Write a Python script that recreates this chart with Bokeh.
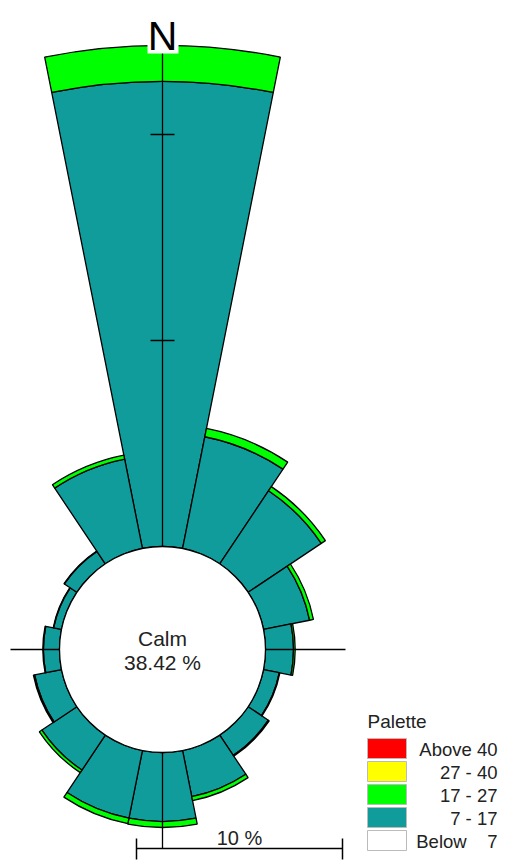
import numpy as np
from bokeh.plotting import figure
from bokeh.models import Range1d
from bokeh.embed import file_html
from bokeh.resources import INLINE
from bokeh.core.properties import value

# ---------------- data ----------------
directions = ["N", "NNE", "NE", "ENE", "E", "ESE", "SE", "SSE",
              "S", "SSW", "SW", "WSW", "W", "WNW", "NW", "NNW"]
bearings = [0.0, 22.5, 45.0, 67.5, 90.0, 112.5, 135.0, 157.5,
            180.0, 202.5, 225.0, 247.5, 270.0, 292.5, 315.0, 337.5]
pct_below_7 = [0] * 16
pct_7_17 = [22.57, 5.53, 4.27, 2.28, 1.36, 0.78, 1.18, 2.28,
            3.35, 3.35, 2.04, 1.33, 0.78, 0.39, 0.73, 4.42]
pct_17_27 = [1.75, 0.41, 0.24, 0.19, 0.08, 0.03, 0.05, 0.20,
             0.29, 0.27, 0.15, 0.06, 0.03, 0.02, 0.02, 0.20]
pct_27_40 = [0] * 16
pct_above_40 = [0] * 16
calm_pct = 38.42
calm_radius = 5.0          # radius of the calm circle, in % units
axis_ticks_pct = [10, 20]
scale_pct = 10

legend_labels = ["Above 40", "27 - 40", "17 - 27", "7 - 17",
                 "Below\u00a0\u00a0\u00a0\u00a07"]
legend_colors = ["#FF0000", "#FFFF00", "#00FF00", "#119C9C", "#FFFFFF"]
classes = [pct_below_7, pct_7_17, pct_17_27, pct_27_40, pct_above_40]
class_colors = ["#FFFFFF", "#119C9C", "#00FF00", "#FFFF00", "#FF0000"]

FONT = value("Liberation Sans")

# ---------------- layout ----------------
W, H = 505, 862
OX, OY = 0, 0               # page position of canvas origin
S = 20.6                    # pixels per % unit
CX, CY = 162.0, 649.0       # page position of rose centre

def X(px):
    return (px - CX) / S

def Y(py):
    return (CY - py) / S

p = figure(width=W, height=H,
           x_range=Range1d(X(OX), X(OX + W)),
           y_range=Range1d(Y(OY + H), Y(OY)),
           output_backend="svg", toolbar_location=None,
           x_axis_type=None, y_axis_type=None,
           min_border=0, outline_line_color=None)
p.grid.visible = False

# ---------------- stacked sectors ----------------
half = 11.25
cum = np.zeros(16)
for vals, col in zip(classes, class_colors):
    vals = np.array(vals, dtype=float)
    m = vals > 0
    if m.any():
        b = np.array(bearings)[m]
        inner = calm_radius + cum[m]
        outer = inner + vals[m]
        p.annular_wedge(x=0, y=0, inner_radius=inner, outer_radius=outer,
                        start_angle=np.radians(90 - b - half),
                        end_angle=np.radians(90 - b + half),
                        fill_color=col, line_color="black", line_width=1.3)
    cum = cum + vals

# ---------------- axes ----------------
top_r = calm_radius + max(np.array(pct_7_17) + np.array(pct_17_27))
p.segment(x0=[0], y0=[Y(848)], x1=[0], y1=[top_r], line_color="black", line_width=1.3)
p.segment(x0=[X(10)], y0=[0], x1=[X(345)], y1=[0], line_color="black", line_width=1.3)
tick_r = [calm_radius + t for t in axis_ticks_pct]
p.segment(x0=[X(150)] * 2, y0=tick_r, x1=[X(174)] * 2, y1=tick_r,
          line_color="black", line_width=1.5)

# calm circle
p.circle(x=[0], y=[0], radius=calm_radius, fill_color="white",
         line_color="black", line_width=1.3)
p.text(x=[0, 0], y=[Y(637.5), Y(662)], text=["Calm", f"{calm_pct:.2f} %"],
       text_font=FONT, text_font_size="21px", text_color="#222222",
       text_align="center", text_baseline="middle")

# North label
p.quad(left=[X(147)], right=[X(178)], top=[Y(12)], bottom=[Y(53)],
       fill_color="white", line_color=None)
p.text(x=[0], y=[Y(35)], text=["N"], text_font=FONT, text_font_size="41px",
       text_color="black", text_align="center", text_baseline="middle")

# scale bar
x0s = X(136)
x1s = x0s + scale_pct
ys = Y(848)
p.segment(x0=[x0s], y0=[ys], x1=[x1s], y1=[ys], line_color="black", line_width=1.5)
p.segment(x0=[x0s, x1s], y0=[Y(838)] * 2, x1=[x0s, x1s], y1=[Y(859)] * 2,
          line_color="black", line_width=1.5)
p.text(x=[(x0s + x1s) / 2], y=[Y(837)], text=[f"{scale_pct} %"],
       text_font=FONT, text_font_size="20px", text_color="#222222",
       text_align="center", text_baseline="middle")

# legend
p.text(x=[X(367)], y=[Y(720.5)], text=["Palette"], text_font=FONT,
       text_font_size="19px", text_color="#222222", text_align="left",
       text_baseline="middle")
row_tops = [738 + 23 * i for i in range(len(legend_labels))]
p.quad(left=[X(367)] * 5, right=[X(406)] * 5,
       top=[Y(t) for t in row_tops], bottom=[Y(t + 20) for t in row_tops],
       fill_color=legend_colors, line_color="#BBBBBB", line_width=1)
p.text(x=[X(497)] * 5, y=[Y(t + 10.5) for t in row_tops], text=legend_labels,
       text_font=FONT, text_font_size="18.5px", text_color="#222222",
       text_align="right", text_baseline="middle")

open("out.html", "w").write(file_html(p, INLINE))
